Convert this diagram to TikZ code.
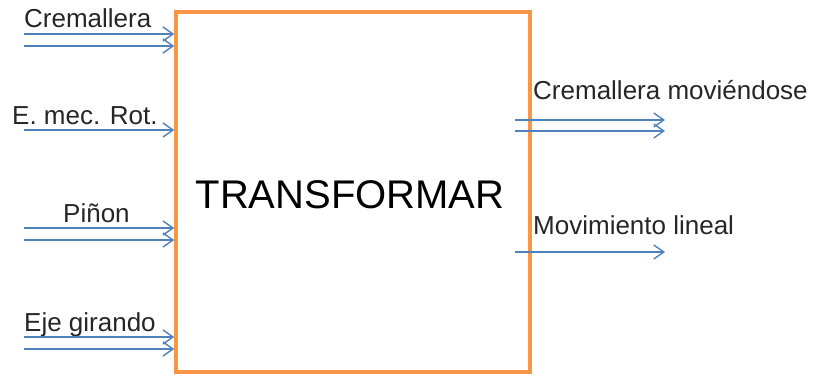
\documentclass[tikz,border=0pt]{standalone}
\usepackage{fontspec}
\setmainfont{Liberation Sans}
\usetikzlibrary{arrows.meta}
\definecolor{boxorange}{RGB}{247,150,70}
\definecolor{arrblue}{RGB}{79,129,189}
\begin{document}
\begin{tikzpicture}[x=1pt,y=-1pt,
  flow/.style={draw=arrblue,line width=1.4pt,-{Straight Barb[length=10pt,width=14pt,line width=1.4pt]}},
  lbl/.style={anchor=base west,inner sep=0pt,font=\fontsize{26}{31}\selectfont,text=black!85},
  mainbox/.style={draw=boxorange,line width=3.5pt,minimum width=354pt,minimum height=360pt,inner sep=0pt}]
\useasboundingbox (0,0) rectangle (821,375);
\node[mainbox] (box) at (353,192) {};
\node[anchor=base,inner sep=0pt,font=\fontsize{40}{48}\selectfont] (title) at (350,208) {TRANSFORMAR};
% left inputs
\node[lbl] (l1) at (24,27) {Cremallera};
\node[lbl] (l2) at (12,124) {E. mec. Rot.};
\node[lbl] (l3) at (63,222) {Piñon};
\node[lbl] (l4) at (24,331) {Eje girando};
\coordinate (a1) at (24,34); \coordinate (a2) at (24,46);
\coordinate (a3) at (24,130);
\coordinate (a4) at (24,228); \coordinate (a5) at (24,240);
\coordinate (a6) at (24,337); \coordinate (a7) at (24,349);
\foreach \c in {a1,a2,a3,a4,a5,a6,a7}{
  \draw[flow] (\c) -- (\c -| box.west);
}
% right outputs
\node[lbl] (r1) at (533,99) {Cremallera moviéndose};
\node[lbl] (r2) at (533,234) {Movimiento lineal};
\coordinate (b1s) at (515,120); \coordinate (b1e) at (665,120);
\coordinate (b2s) at (515,131); \coordinate (b2e) at (665,131);
\coordinate (b3s) at (515,252); \coordinate (b3e) at (665,252);
\draw[flow] (b1s) -- (b1e);
\draw[flow] (b2s) -- (b2e);
\draw[flow] (b3s) -- (b3e);
\end{tikzpicture}
\end{document}
